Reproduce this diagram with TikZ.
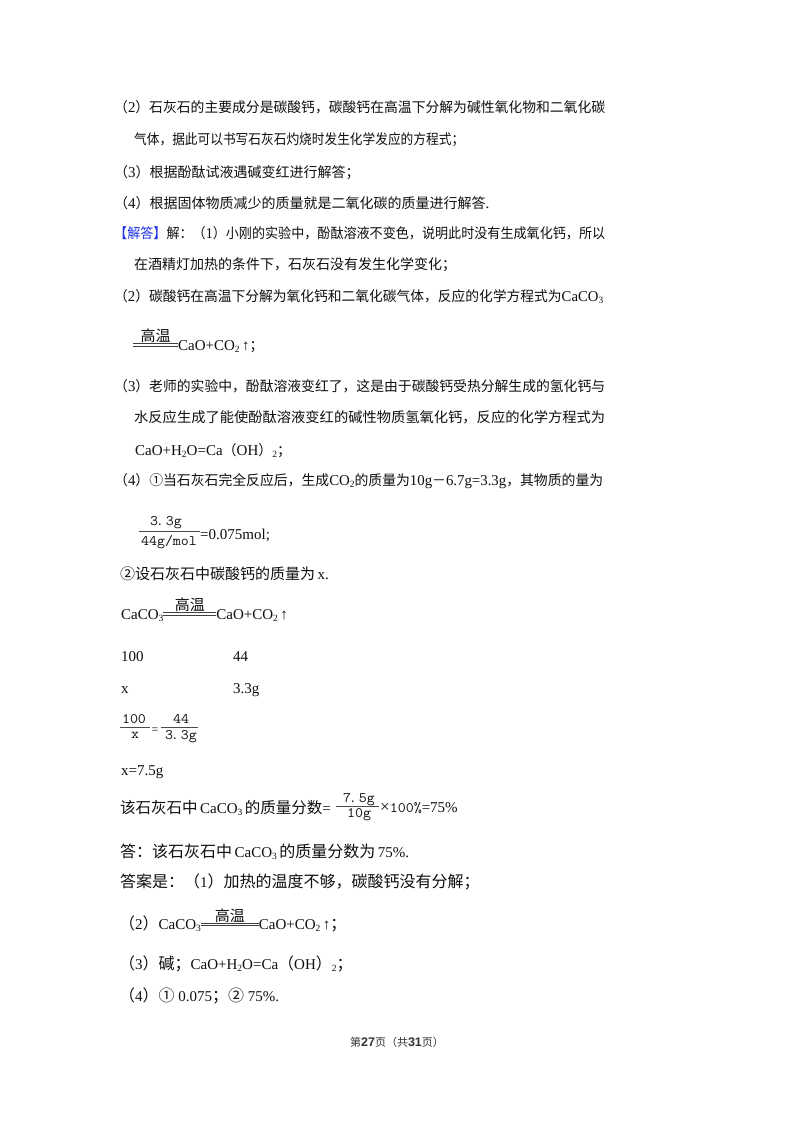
\documentclass[tikz,border=0pt]{standalone}
\usepackage{graphicx}
\usepackage{fontspec}
\setmainfont{Liberation Serif}
\newfontfamily\cj{Noto Sans CJK SC}
\newfontfamily\lsans{Liberation Sans}
\definecolor{ansblue}{RGB}{30,50,230}
\definecolor{ink}{RGB}{15,15,15}
\def\zs{14pt}
\newcommand\zh[1]{{\cj\fontsize{\zs}{\zs}\selectfont #1}}
\newcommand\sbs[1]{\raisebox{-0.3ex}{\fontsize{9.5}{10}\selectfont #1}}
\newcommand\mono[1]{\scalebox{1.07}[1]{\ttfamily\fontsize{14.5}{15}\selectfont #1}}
\newcommand\gaowen[1]{\makebox[#1][c]{\rlap{\color{ink!80}\rule[3.8pt]{#1}{0.6pt}}\rlap{\color{ink!80}\rule[6.3pt]{#1}{0.6pt}}\hfill\raisebox{8.5pt}{\cj\fontsize{15}{15}\selectfont 高温}\hfill}}
\newcommand\fitw[2]{\resizebox{#1}{\height}{#2}}
\newcommand\dotg[2]{#1\kern-2pt.\kern2pt#2}
\begin{document}
\begin{tikzpicture}[x=1pt,y=-1pt,
  txt/.style={inner sep=0pt,anchor=base west,text=ink,font=\fontsize{15}{17}\selectfont},
  txtb/.style={inner sep=0pt,anchor=base west,text=ink,font=\fontsize{15}{18}\selectfont},
  num/.style={inner sep=0pt,anchor=base,text=ink},
  bar/.style={draw=ink!75,line width=0.7pt},
  foot/.style={inner sep=0pt,anchor=base,text=ink!85,font=\fontsize{11}{13}\selectfont}]
\fill[white] (0,0) rectangle (800,1132);
\useasboundingbox (0,0) rectangle (800,1132);

\node[txt] (l1) at (114,112) {\fitw{491pt}{\zh{（}2\zh{）石灰石的主要成分是碳酸钙，碳酸钙在高温下分解为碱性氧化物和二氧化碳}}};
\node[txt] (l2) at (134,144) {\fitw{330pt}{\zh{气体，据此可以书写石灰石灼烧时发生化学发应的方程式；}}};
\node[txt] (l3) at (114,177) {\zh{（}3\zh{）根据酚酞试液遇碱变红进行解答；}};
\node[txt] (l4) at (114,208) {\zh{（}4\zh{）根据固体物质减少的质量就是二氧化碳的质量进行解答}.};
\node[txt] (l5) at (114,238) {\fitw{491pt}{\textcolor{ansblue}{\zh{【解答】}}\zh{解：（}1\zh{）小刚的实验中，酚酞溶液不变色，说明此时没有生成氧化钙，所以}}};
\node[txt] (l6) at (134,269) {\zh{在酒精灯加热的条件下，石灰石没有发生化学变化；}};
\node[txt] (l7) at (114,301) {\fitw{489pt}{\zh{（}2\zh{）碳酸钙在高温下分解为氧化钙和二氧化碳气体，反应的化学方程式为}CaCO\sbs{3}}};
\node[txt] (l8) at (133,350) {\gaowen{45pt}CaO+CO\sbs{2}\,↑\zh{；}};
\node[txt] (l9) at (114,391) {\fitw{491pt}{\zh{（}3\zh{）老师的实验中，酚酞溶液变红了，这是由于碳酸钙受热分解生成的氢化钙与}}};
\node[txt] (l10) at (134,422) {\fitw{471pt}{\zh{水反应生成了能使酚酞溶液变红的碱性物质氢氧化钙，反应的化学方程式为}}};
\node[txt] (l11) at (135,455) {CaO+H\sbs{2}O=Ca\zh{（}OH\zh{）}\sbs{2}\zh{；}};
\node[txt] (l12) at (114,485) {\fitw{489pt}{\zh{（}4\zh{）①当石灰石完全反应后，生成}CO\sbs{2}\zh{的质量为}10g\zh{－}6.7g=3.3g\zh{，其物质的量为}}};

% fraction 1
\node[num] (f1n) at (166,525) {\mono{\dotg{3}{3g}}};
\node[num] (f1d) at (169,545.5) {\mono{44g/mol}};
\coordinate (f1a) at (139,531.5);
\coordinate (f1b) at (200,531.5);
\draw[bar] (f1a) -- (f1b);
\node[txt] (f1e) at (200,539) {=0.075mol;};

\node[txtb] (m1) at (120,579) {\def\zs{15pt}\zh{②设石灰石中碳酸钙的质量为}\,x.};
\node[txtb] (m2) at (121,619) {CaCO\sbs{3}\gaowen{53pt}CaO+CO\sbs{2}\,↑};
\node[txtb] (m3) at (121,661.5) {100};
\node[txtb] (m4) at (233,661.5) {44};
\node[txtb] (m5) at (121,693) {x};
\node[txtb] (m6) at (233,693) {3.3g};

% fraction 2
\node[num] (f2n) at (134,723.5) {\mono{100}};
\node[num] (f2d) at (135,738) {\mono{x}};
\coordinate (f2a) at (120,727);
\coordinate (f2b) at (150,727);
\draw[bar] (f2a) -- (f2b);
\node[txt,font=\fontsize{12}{12}\selectfont] (f2e) at (151.5,733) {=};
\node[num] (f2m) at (181,723.5) {\mono{44}};
\node[num] (f2k) at (181,739) {\mono{\dotg{3}{3g}}};
\coordinate (f2c) at (161,727);
\coordinate (f2x) at (198,727);
\draw[bar] (f2c) -- (f2x);

\node[txtb] (m7) at (121,775) {x=7.5g};

% mass fraction line
\node[txtb] (m8) at (120,813) {\def\zs{15.5pt}\zh{该石灰石中}\,CaCO\sbs{3}\,\zh{的质量分数}=};
\node[num] (f3n) at (359,802.5) {\mono{\dotg{7}{5g}}};
\node[num] (f3d) at (359,817) {\mono{10g}};
\coordinate (f3a) at (336,806);
\coordinate (f3b) at (379,806);
\draw[bar] (f3a) -- (f3b);
\node[txtb] (m9) at (380,812) {{\fontsize{17}{17}\selectfont ×}\mono{100\%}=75\%};

\node[txtb] (m10) at (120,857) {\def\zs{16pt}\zh{答：该石灰石中}\,CaCO\sbs{3}\,\zh{的质量分数为}\,75\%.};
\node[txtb] (m11) at (120,887) {\def\zs{16pt}\zh{答案是：（}1\zh{）加热的温度不够，碳酸钙没有分解；}};
\node[txtb] (m12) at (119,929.5) {\def\zs{16pt}\zh{（}2\zh{）}CaCO\sbs{3}\gaowen{58pt}CaO+CO\sbs{2}\,↑\zh{；}};
\node[txtb] (m13) at (119,969) {\def\zs{16pt}\zh{（}3\zh{）碱；}CaO+H\sbs{2}O=Ca\zh{（}OH\zh{）}\sbs{2}\zh{；}};
\node[txtb] (m14) at (119,1001) {\def\zs{16pt}\zh{（}4\zh{）①}\ 0.075\zh{；②}\ 75\%.};

\node[foot] (pg) at (397,1046) {\def\zs{11pt}\zh{第}{\lsans\bfseries\fontsize{12.5}{13}\selectfont 27}\zh{页（共}{\lsans\bfseries\fontsize{12.5}{13}\selectfont 31}\zh{页）}};
\end{tikzpicture}
\end{document}
